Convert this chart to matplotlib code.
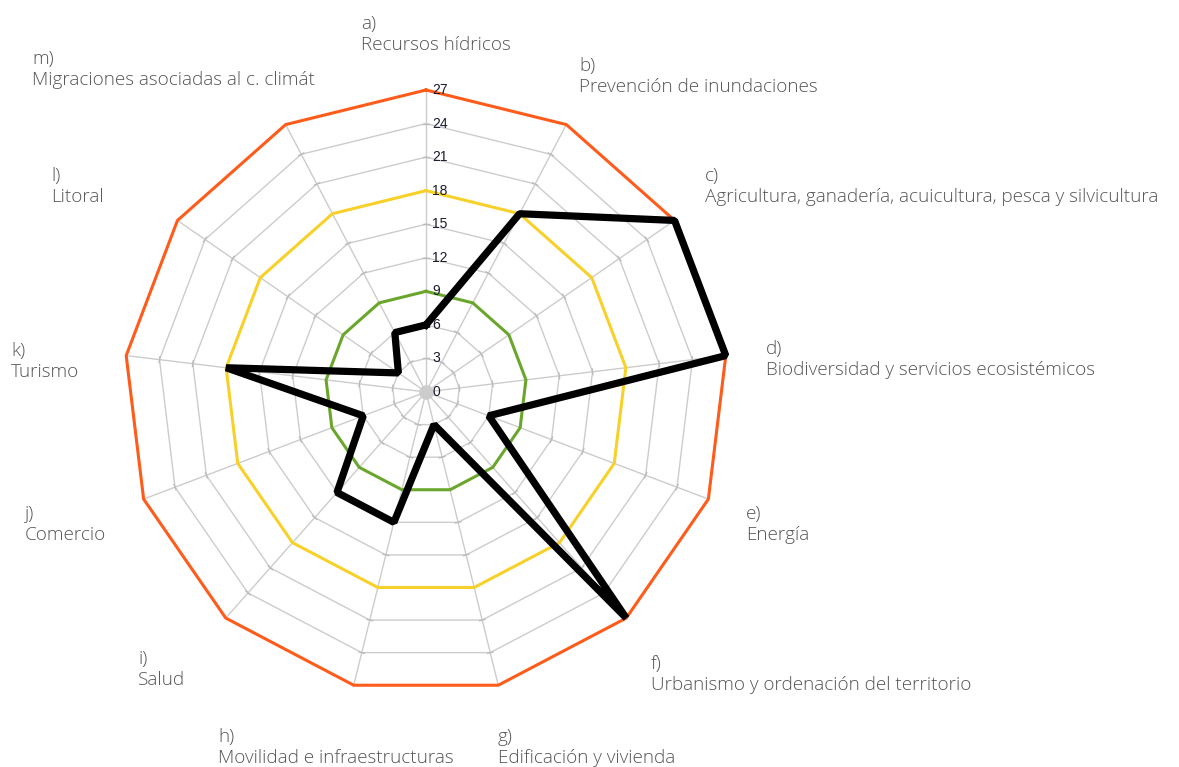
import numpy as np
import matplotlib.pyplot as plt

# ejes del radar y valores
letras = ["a)", "b)", "c)", "d)", "e)", "f)", "g)", "h)", "i)", "j)", "k)", "l)", "m)"]
nombres = ["Recursos hídricos",
           "Prevención de inundaciones",
           "Agricultura, ganadería, acuicultura, pesca y silvicultura",
           "Biodiversidad y servicios ecosistémicos",
           "Energía",
           "Urbanismo y ordenación del territorio",
           "Edificación y vivienda",
           "Movilidad e infraestructuras",
           "Salud",
           "Comercio",
           "Turismo",
           "Litoral",
           "Migraciones asociadas al c. climát"]
valores = [6, 18, 27, 27, 6, 27, 3, 12, 12, 6, 18, 3, 6]
niveles = [3, 6, 9, 12, 15, 18, 21, 24, 27]
niveles_color = {9: "#6aa62c", 18: "#f7d12a", 27: "#ff5b1a"}

# posicion (px) esquina sup. izq. de cada etiqueta
pos_etiq = [(361, 15), (579, 57), (705, 167), (766, 340), (746, 505), (651, 655),
            (498, 728), (218, 728), (138, 650), (25, 505), (11, 342), (51, 167), (32, 50)]

W, H = 1179, 767
cx, cy = 426, 392
escala = 302 / 27.0

fig = plt.figure(figsize=(W / 100, H / 100), dpi=100)
ax = fig.add_axes([0, 0, 1, 1])
ax.set_xlim(-cx / escala, (W - cx) / escala)
ax.set_ylim(-(H - cy) / escala, cy / escala)
ax.axis("off")

n = len(valores)
ang = np.arange(n) * 2 * np.pi / n


def xy(r, a):
    return r * np.sin(a), r * np.cos(a)


# radios
for a in ang:
    x, y = xy(27, a)
    ax.plot([0, x], [0, y], color="#cccccc", lw=1, zorder=1)

# anillos
angc = np.append(ang, ang[0])
for r in niveles:
    x, y = xy(r, angc)
    col = niveles_color.get(r, "#cccccc")
    lw = 2.2 if r in niveles_color else 1
    ax.plot(x, y, color=col, lw=lw, zorder=2 if r in niveles_color else 1)
    # pequeñas marcas en los radios
    if r not in niveles_color:
        for a in ang:
            px, py = xy(r, a)
            tx, ty = np.cos(a) * 0.25, -np.sin(a) * 0.25
            ax.plot([px - tx, px + tx], [py - ty, py + ty], color="#bbbbbb", lw=1, zorder=1)

ax.scatter([0], [0], s=90, color="#cccccc", zorder=3)

# etiquetas de escala
for r in [0] + niveles:
    ax.text(0.55, r, str(r), fontsize=10, color="#1a1a2e", family="Liberation Sans",
            va="center", ha="left", zorder=5)

# serie
vals = np.append(valores, valores[0])
x, y = xy(vals, angc)
ax.plot(x, y, color="black", lw=5.2, solid_joinstyle="bevel", zorder=4)

# etiquetas de los ejes
for (px, py), l, t in zip(pos_etiq, letras, nombres):
    fig.text(px / W, 1 - py / H, l + "\n" + t, fontsize=13.6, color="#555555",
             family="Open Sans", fontweight="light", ha="left", va="top", linespacing=1.2)

fig.savefig("out.png", dpi=100)
